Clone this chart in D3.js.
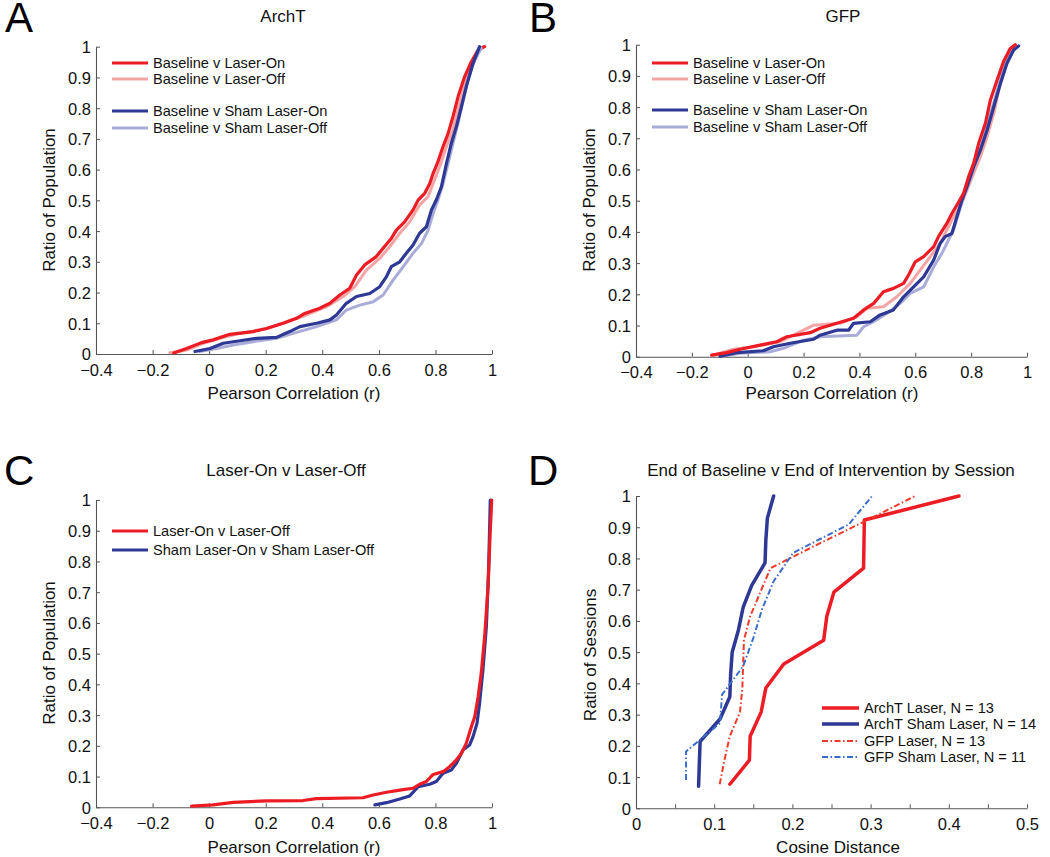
<!DOCTYPE html>
<html><head><meta charset="utf-8">
<script src="https://cdn.jsdelivr.net/npm/d3@7"></script>
<style>
html,body{margin:0;padding:0;background:#fff;}
svg{display:block;}
</style></head>
<body>
<svg id="chart" width="1050" height="857"></svg>
<script>
// ---------------- DATA ----------------
// Panel A (ArchT): [Pearson r, ratio of population]
const archtLaserOn = [[-0.125,0.003],[-0.08,0.018],[-0.027,0.037],[0.014,0.046],[0.073,0.064],[0.156,0.073],[0.203,0.083],[0.262,0.1],[0.309,0.116],[0.338,0.132],[0.391,0.149],[0.427,0.165],[0.462,0.192],[0.497,0.214],[0.521,0.257],[0.55,0.29],[0.591,0.317],[0.615,0.344],[0.644,0.376],[0.662,0.403],[0.691,0.43],[0.721,0.469],[0.739,0.501],[0.762,0.523],[0.78,0.555],[0.792,0.588],[0.809,0.626],[0.827,0.675],[0.845,0.718],[0.862,0.772],[0.88,0.837],[0.903,0.902],[0.927,0.951],[0.951,0.989],[0.974,1.0]];
const archtLaserOff = [[-0.139,0.004],[-0.08,0.013],[-0.021,0.035],[0.038,0.051],[0.109,0.067],[0.203,0.083],[0.274,0.105],[0.344,0.127],[0.415,0.154],[0.474,0.187],[0.515,0.219],[0.556,0.273],[0.603,0.311],[0.638,0.349],[0.674,0.393],[0.709,0.43],[0.744,0.485],[0.774,0.512],[0.792,0.555],[0.815,0.61],[0.839,0.675],[0.862,0.729],[0.886,0.816],[0.909,0.892],[0.933,0.946],[0.956,0.989],[0.968,1.0]];
const archtShamOn = [[-0.05,0.008],[0.003,0.018],[0.05,0.035],[0.109,0.043],[0.168,0.051],[0.238,0.054],[0.285,0.073],[0.321,0.089],[0.38,0.1],[0.427,0.111],[0.45,0.127],[0.485,0.165],[0.521,0.187],[0.568,0.197],[0.603,0.219],[0.627,0.252],[0.644,0.284],[0.674,0.3],[0.697,0.328],[0.721,0.355],[0.744,0.393],[0.768,0.414],[0.786,0.469],[0.803,0.501],[0.821,0.544],[0.839,0.62],[0.856,0.685],[0.874,0.74],[0.892,0.805],[0.909,0.87],[0.933,0.946],[0.956,1.0]];
const archtShamOff = [[-0.033,0.008],[0.026,0.018],[0.085,0.029],[0.156,0.04],[0.238,0.051],[0.297,0.067],[0.38,0.089],[0.45,0.111],[0.485,0.143],[0.533,0.159],[0.58,0.17],[0.615,0.192],[0.651,0.241],[0.686,0.284],[0.721,0.328],[0.751,0.36],[0.774,0.403],[0.792,0.458],[0.809,0.501],[0.827,0.555],[0.845,0.62],[0.862,0.685],[0.88,0.751],[0.898,0.826],[0.915,0.892],[0.939,0.957],[0.962,0.995]];

// Panel B (GFP)
const gfpLaserOn = [[-0.129,0.005],[-0.075,0.013],[-0.027,0.024],[0.044,0.037],[0.104,0.048],[0.14,0.064],[0.224,0.077],[0.259,0.091],[0.319,0.107],[0.379,0.123],[0.415,0.15],[0.451,0.171],[0.486,0.208],[0.522,0.219],[0.558,0.235],[0.576,0.262],[0.6,0.304],[0.63,0.321],[0.666,0.353],[0.683,0.385],[0.713,0.427],[0.731,0.459],[0.749,0.486],[0.773,0.524],[0.791,0.577],[0.809,0.62],[0.827,0.684],[0.851,0.748],[0.869,0.823],[0.893,0.887],[0.916,0.946],[0.94,0.988],[0.958,1.0]];
const gfpLaserOff = [[-0.123,0.005],[-0.051,0.024],[0.021,0.032],[0.116,0.048],[0.176,0.075],[0.236,0.101],[0.331,0.107],[0.391,0.128],[0.427,0.155],[0.486,0.16],[0.534,0.192],[0.582,0.235],[0.618,0.278],[0.654,0.321],[0.689,0.363],[0.713,0.406],[0.737,0.449],[0.761,0.481],[0.785,0.534],[0.809,0.588],[0.833,0.641],[0.857,0.705],[0.881,0.78],[0.899,0.855],[0.916,0.919],[0.934,0.972],[0.952,0.997]];
const gfpShamOn = [[-0.099,0.002],[-0.039,0.013],[0.056,0.019],[0.092,0.032],[0.152,0.043],[0.236,0.056],[0.259,0.069],[0.319,0.085],[0.361,0.085],[0.379,0.107],[0.439,0.112],[0.474,0.134],[0.522,0.15],[0.558,0.192],[0.594,0.224],[0.63,0.256],[0.666,0.31],[0.689,0.363],[0.707,0.385],[0.731,0.395],[0.749,0.449],[0.767,0.502],[0.785,0.545],[0.809,0.609],[0.833,0.662],[0.857,0.726],[0.881,0.801],[0.905,0.876],[0.928,0.94],[0.952,0.983],[0.97,0.996]];
const gfpShamOff = [[-0.087,0.002],[-0.027,0.011],[0.08,0.016],[0.128,0.027],[0.2,0.053],[0.259,0.064],[0.391,0.069],[0.415,0.096],[0.451,0.112],[0.498,0.139],[0.546,0.171],[0.582,0.203],[0.63,0.224],[0.666,0.288],[0.695,0.331],[0.719,0.374],[0.737,0.406],[0.755,0.459],[0.773,0.513],[0.791,0.556],[0.815,0.62],[0.839,0.684],[0.863,0.759],[0.887,0.833],[0.91,0.908],[0.934,0.962],[0.964,0.994]];

// Panel C (Laser-On v Laser-Off)
const onVsOff = [[-0.062,0.004],[0.014,0.008],[0.085,0.016],[0.203,0.021],[0.332,0.022],[0.379,0.028],[0.544,0.031],[0.58,0.04],[0.627,0.049],[0.674,0.056],[0.721,0.062],[0.744,0.075],[0.768,0.084],[0.792,0.107],[0.827,0.116],[0.85,0.132],[0.874,0.154],[0.892,0.176],[0.909,0.208],[0.927,0.262],[0.939,0.295],[0.951,0.36],[0.962,0.436],[0.974,0.555],[0.986,0.718],[0.994,0.902],[0.999,1.0]];
const shamOnVsOff = [[0.586,0.008],[0.627,0.015],[0.674,0.027],[0.709,0.037],[0.739,0.067],[0.78,0.075],[0.803,0.084],[0.827,0.111],[0.856,0.121],[0.874,0.143],[0.898,0.187],[0.921,0.203],[0.933,0.23],[0.947,0.273],[0.956,0.338],[0.968,0.447],[0.98,0.588],[0.988,0.772],[0.994,1.0]];

// Panel D (cosine distance by session)
const dArchTLaser = [[0.120,0.077],[0.145,0.154],[0.146,0.231],[0.160,0.308],[0.166,0.385],[0.189,0.462],[0.240,0.538],[0.244,0.615],[0.253,0.692],[0.291,0.769],[0.2915,0.846],[0.292,0.923],[0.413,1.0]];
const dArchTSham = [[0.080,0.071],[0.081,0.143],[0.082,0.214],[0.1075,0.286],[0.120,0.357],[0.121,0.429],[0.123,0.5],[0.131,0.571],[0.137,0.643],[0.148,0.714],[0.165,0.786],[0.166,0.857],[0.168,0.929],[0.176,1.0]];
const dGfpLaser = [[0.107,0.077],[0.113,0.154],[0.120,0.231],[0.133,0.308],[0.136,0.385],[0.137,0.462],[0.138,0.538],[0.146,0.615],[0.159,0.692],[0.172,0.769],[0.233,0.846],[0.296,0.923],[0.357,1.0]];
const dGfpSham = [[0.064,0.091],[0.064,0.182],[0.1075,0.273],[0.110,0.364],[0.137,0.455],[0.150,0.545],[0.161,0.636],[0.176,0.727],[0.201,0.818],[0.272,0.909],[0.302,1.0]];

// Ticks and labels
const corrTicks = [-0.4,-0.2,0,0.2,0.4,0.6,0.8,1];
const ratioTicks = [0,0.1,0.2,0.3,0.4,0.5,0.6,0.7,0.8,0.9,1];
const cosTicks = [0,0.05,0.1,0.15,0.2,0.25,0.3,0.35,0.4,0.45,0.5];
const cosLabelTicks = [0,0.1,0.2,0.3,0.4,0.5];
const legendAB = ["Baseline v Laser-On","Baseline v Laser-Off","Baseline v Sham Laser-On","Baseline v Sham Laser-Off"];
const legendC = ["Laser-On v Laser-Off","Sham Laser-On v Sham Laser-Off"];
const legendD = ["ArchT Laser, N = 13","ArchT Sham Laser, N = 14","GFP Laser, N = 13","GFP Sham Laser, N = 11"];

// ---------------- STYLE ----------------
const FONT = "'Liberation Sans', Arial, Helvetica, sans-serif";
const RED = "#ec1c24", PINK = "#f3a5a6", BLUE = "#2e3895", LBLUE = "#a9acd8";
const RED_DD = "#ee3a2a", BLUE_DD = "#3a6cc8";
const DASHDOT = "6,2.5,1.5,2.5";

const svg = d3.select("#chart");
const fmt = d3.format("~g");

function panel(o) {
  const g = svg.append("g");
  const x = d3.scaleLinear().domain(o.xDomain).range([o.x0, o.x1]);
  const y = d3.scaleLinear().domain([0,1]).range([o.y0, o.y1]);

  const xa = d3.axisBottom(x).tickValues(o.xTicks).tickSizeInner(-4).tickSizeOuter(0).tickPadding(10)
    .tickFormat(o.xFormat || fmt);
  const ya = d3.axisLeft(y).tickValues(ratioTicks).tickSizeInner(-4).tickSizeOuter(0).tickPadding(5)
    .tickFormat(fmt);

  const gx = g.append("g").attr("transform", `translate(0,${o.y0})`).call(xa);
  const gy = g.append("g").attr("transform", `translate(${o.x0},0)`).call(ya);
  [gx, gy].forEach(a => {
    a.select(".domain").attr("stroke", "#555").attr("stroke-width", 1.1);
    a.selectAll(".tick line").attr("stroke", "#555").attr("stroke-width", 1);
    a.selectAll(".tick text").attr("font-family", FONT).attr("font-size", 16.5).attr("fill", "#111");
  });
  gy.selectAll(".tick text").attr("dy", "0.36em");

  // axis labels
  g.append("text").attr("x", o.xLabelX).attr("y", o.xLabelY).attr("text-anchor", "middle")
    .attr("font-family", FONT).attr("font-size", 17).attr("fill", "#111").text(o.xLabel);
  g.append("text").attr("transform", `translate(${o.yLabelX},${o.yLabelY}) rotate(-90)`)
    .attr("text-anchor", "middle").attr("dy", "0.35em")
    .attr("font-family", FONT).attr("font-size", 17).attr("fill", "#111").text(o.yLabel);
  // title
  g.append("text").attr("x", o.titleX).attr("y", o.titleY).attr("text-anchor", "middle")
    .attr("font-family", FONT).attr("font-size", 17).attr("fill", "#111").text(o.title);
  // panel letter
  g.append("text").attr("x", o.letterX).attr("y", o.letterY)
    .attr("font-family", FONT).attr("font-size", 42).attr("fill", "#000").text(o.letter);

  const line = d3.line().x(d => x(d[0])).y(d => y(d[1]));
  o.series.forEach(s => {
    g.append("path").datum(s.data).attr("d", line).attr("fill", "none")
      .attr("stroke", s.color).attr("stroke-width", s.width)
      .attr("stroke-dasharray", s.dash || null)
      .attr("stroke-linejoin", "round").attr("stroke-linecap", s.dash ? "butt" : "round");
  });

  // legend
  o.legend.forEach(l => {
    g.append("line").attr("x1", o.legX).attr("x2", o.legX + o.legLen).attr("y1", l.y).attr("y2", l.y)
      .attr("stroke", l.color).attr("stroke-width", l.width).attr("stroke-dasharray", l.dash || null);
    g.append("text").attr("x", o.legX + o.legLen + 5).attr("y", l.y).attr("dy", "0.35em")
      .attr("font-family", FONT).attr("font-size", 14.6).attr("fill", "#111").text(l.label);
  });
}

// Panel A
panel({
  letter: "A", letterX: 5, letterY: 32,
  title: "ArchT", titleX: 283, titleY: 22,
  xDomain: [-0.4, 1], xTicks: corrTicks, x0: 96, x1: 492, y0: 354, y1: 46.7,
  xLabel: "Pearson Correlation (r)", xLabelX: 294, xLabelY: 399,
  yLabel: "Ratio of Population", yLabelX: 49, yLabelY: 200,
  series: [
    {data: archtLaserOff, color: PINK, width: 3},
    {data: archtLaserOn, color: RED, width: 3.2},
    {data: archtShamOff, color: LBLUE, width: 3},
    {data: archtShamOn, color: BLUE, width: 3.2}
  ],
  legX: 112, legLen: 36,
  legend: [
    {label: legendAB[0], color: RED, width: 3.2, y: 63},
    {label: legendAB[1], color: PINK, width: 3, y: 79},
    {label: legendAB[2], color: BLUE, width: 3.2, y: 111},
    {label: legendAB[3], color: LBLUE, width: 3, y: 128}
  ]
});

// Panel B
panel({
  letter: "B", letterX: 529, letterY: 32,
  title: "GFP", titleX: 843, titleY: 22,
  xDomain: [-0.4, 1], xTicks: corrTicks, x0: 636, x1: 1027, y0: 356.7, y1: 44.7,
  xLabel: "Pearson Correlation (r)", xLabelX: 832, xLabelY: 399,
  yLabel: "Ratio of Population", yLabelX: 589, yLabelY: 200,
  series: [
    {data: gfpLaserOff, color: PINK, width: 3},
    {data: gfpShamOff, color: LBLUE, width: 3},
    {data: gfpShamOn, color: BLUE, width: 3.2},
    {data: gfpLaserOn, color: RED, width: 3.2}
  ],
  legX: 652, legLen: 36,
  legend: [
    {label: legendAB[0], color: RED, width: 3.2, y: 63},
    {label: legendAB[1], color: PINK, width: 3, y: 79},
    {label: legendAB[2], color: BLUE, width: 3.2, y: 110},
    {label: legendAB[3], color: LBLUE, width: 3, y: 127}
  ]
});

// Panel C
panel({
  letter: "C", letterX: 4, letterY: 485,
  title: "Laser-On v Laser-Off", titleX: 286, titleY: 476,
  xDomain: [-0.4, 1], xTicks: corrTicks, x0: 96, x1: 492, y0: 807.3, y1: 500,
  xLabel: "Pearson Correlation (r)", xLabelX: 294, xLabelY: 853,
  yLabel: "Ratio of Population", yLabelX: 49, yLabelY: 653,
  series: [
    {data: shamOnVsOff, color: BLUE, width: 3.2},
    {data: onVsOff, color: RED, width: 3.2}
  ],
  legX: 112, legLen: 36,
  legend: [
    {label: legendC[0], color: RED, width: 3.2, y: 531},
    {label: legendC[1], color: BLUE, width: 3.2, y: 550}
  ]
});

// Panel D
panel({
  letter: "D", letterX: 528, letterY: 485,
  title: "End of Baseline v End of Intervention by Session", titleX: 831, titleY: 476,
  xDomain: [0, 0.5], xTicks: cosTicks, x0: 636, x1: 1027, y0: 808.3, y1: 496,
  xFormat: d => cosLabelTicks.some(t => Math.abs(t - d) < 1e-9) ? fmt(d) : "",
  xLabel: "Cosine Distance", xLabelX: 838, xLabelY: 853,
  yLabel: "Ratio of Sessions", yLabelX: 590, yLabelY: 655,
  series: [
    {data: dArchTLaser, color: RED, width: 3.5},
    {data: dArchTSham, color: BLUE, width: 3.5},
    {data: dGfpLaser, color: RED_DD, width: 2, dash: DASHDOT},
    {data: dGfpSham, color: BLUE_DD, width: 2, dash: DASHDOT}
  ],
  legX: 822, legLen: 37,
  legend: [
    {label: legendD[0], color: RED, width: 3.5, y: 708},
    {label: legendD[1], color: BLUE, width: 3.5, y: 724},
    {label: legendD[2], color: RED_DD, width: 2, y: 741, dash: DASHDOT},
    {label: legendD[3], color: BLUE_DD, width: 2, y: 757, dash: DASHDOT}
  ]
});
</script>
</body></html>
